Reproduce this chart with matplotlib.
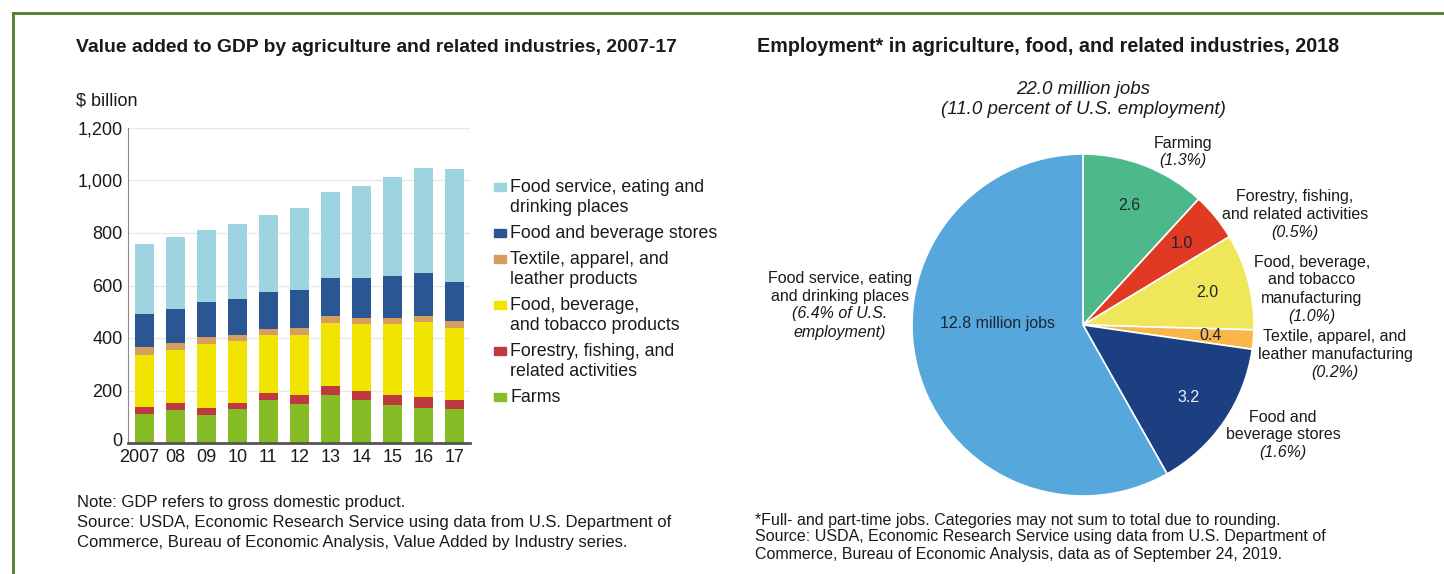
import matplotlib
matplotlib.use("Agg")
import matplotlib.pyplot as plt
from matplotlib.lines import Line2D
from matplotlib.patches import Rectangle
from matplotlib.transforms import ScaledTranslation
import numpy as np

plt.rcParams['font.family'] = ['Liberation Sans', 'DejaVu Sans']

W, H = 1444, 574

# --- bar chart data ($ billion) ---
years = ["2007", "08", "09", "10", "11", "12", "13", "14", "15", "16", "17"]
farms = [111, 124, 106, 128, 162, 147, 184, 165, 143, 134, 130]
forestry = [28, 27, 28, 26, 29, 34, 34, 35, 38, 40, 35]
food_bev = [195, 203, 245, 235, 220, 230, 239, 253, 272, 286, 273]
textile = [30, 28, 23, 23, 24, 27, 26, 23, 23, 23, 25]
stores = [126, 130, 134, 137, 139, 143, 146, 152, 161, 166, 150]
food_service = [270, 272, 277, 287, 294, 315, 328, 351, 377, 400, 429]

bar_series = [farms, forestry, food_bev, textile, stores, food_service]
bar_colors = ["#86BC25", "#BE3A3E", "#F0E400", "#D69E5E", "#2A5694", "#9ED3E0"]
bar_labels = ["Farms", "Forestry, fishing, and\nrelated activities",
              "Food, beverage,\nand tobacco products", "Textile, apparel, and\nleather products",
              "Food and beverage stores", "Food service, eating and\ndrinking places"]

# --- pie data (million jobs) ---
pie_values = [2.6, 1.0, 2.0, 0.4, 3.2, 12.8]
pie_inner = ["2.6", "1.0", "2.0", "0.4", "3.2", "12.8 million jobs"]
pie_names = ["Farming", "Forestry, fishing,\nand related activities",
             "Food, beverage,\nand tobacco\nmanufacturing", "Textile, apparel, and\nleather manufacturing",
             "Food and\nbeverage stores", "Food service, eating\nand drinking places"]
pie_shares = ["(1.3%)", "(0.5%)", "(1.0%)", "(0.2%)", "(1.6%)", "(6.4% of U.S.\nemployment)"]
pie_colors = ["#4DB98A", "#E03A24", "#F0E65A", "#F9B74B", "#1B3F80", "#56A8DC"]


def fx(x):
    return x / W


def fy(y):
    return 1 - y / H


txt = "#1a1a1a"
fig = plt.figure(figsize=(W / 100, H / 100), dpi=100)

# green frame (top and left)
fig.add_artist(Line2D([fx(13), 1], [fy(13), fy(13)], color="#4E7F2A", lw=2))
fig.add_artist(Line2D([fx(13), fx(13)], [fy(13), 0], color="#4E7F2A", lw=2))

# ---------------- stacked bars ----------------
ax = fig.add_axes([fx(128), fy(443), fx(470) - fx(128), fy(128) - fy(443)])
x = np.arange(len(years))
bottom = np.zeros(len(years))
for vals, col in zip(bar_series, bar_colors):
    ax.bar(x, vals, 0.62, bottom=bottom, color=col, zorder=2)
    bottom += np.array(vals)

ax.set_xlim(-0.52, 10.5)
ax.set_ylim(0, 1200)
ax.set_yticks(range(0, 1201, 200))
ax.set_yticklabels(["0", "200", "400", "600", "800", "1,000", "1,200"])
ax.set_xticks(x)
ax.set_xticklabels(years)
ax.tick_params(length=0, labelsize=13, colors=txt)
ax.tick_params(axis="y", pad=4)
ax.tick_params(axis="x", pad=4)
# nudge "2007" left and "0" up so the corner labels don't collide
first = ax.get_xticklabels()[0]
first.set_transform(first.get_transform() + ScaledTranslation(-0.05, 0, fig.dpi_scale_trans))
zero = ax.get_yticklabels()[0]
zero.set_transform(zero.get_transform() + ScaledTranslation(0, 0.04, fig.dpi_scale_trans))
ax.grid(axis="y", color="#e8e8e8", lw=1, zorder=0)
for s in ["top", "right"]:
    ax.spines[s].set_visible(False)
ax.spines["left"].set_color("#8a8a8a")
ax.spines["bottom"].set_color("#555555")
ax.spines["bottom"].set_linewidth(2)
ax.spines["bottom"].set_zorder(3)

fig.text(fx(76), fy(47), "Value added to GDP by agriculture and related industries, 2007-17",
         fontsize=13.9, fontweight="bold", color=txt, va="center")
fig.text(fx(76), fy(101), "$ billion", fontsize=13, color=txt, va="center")

# legend, drawn top to bottom
y = 187
for lab, col in zip(bar_labels[::-1], bar_colors[::-1]):
    fig.add_artist(Rectangle((fx(494), fy(y + 4)), fx(12), fy(y - 4) - fy(y + 4),
                             color=col, transform=fig.transFigure))
    lines = lab.split("\n")
    for i, ln in enumerate(lines):
        fig.text(fx(510), fy(y + 20 * i), ln, fontsize=12.8, color=txt, va="center")
    y += 20 * len(lines) + 6

notes_l = ["Note: GDP refers to gross domestic product.",
           "Source: USDA, Economic Research Service using data from U.S. Department of",
           "Commerce, Bureau of Economic Analysis, Value Added by Industry series."]
for i, ln in enumerate(notes_l):
    fig.text(fx(77), fy(503 + 20 * i), ln, fontsize=12, color=txt, va="center")

# ---------------- pie ----------------
cx, cy, r = 1083, 325, 171
pax = fig.add_axes([fx(cx - r), fy(cy + r), fx(2 * r), fy(0) - fy(2 * r)])
wedges, _ = pax.pie(pie_values, colors=pie_colors, startangle=90, counterclock=False,
                    wedgeprops=dict(edgecolor="white", linewidth=1.2))
pax.set_xlim(-1, 1)
pax.set_ylim(-1, 1)
pax.set_aspect("auto")

for i, (w, lab) in enumerate(zip(wedges, pie_inner)):
    ang = np.deg2rad((w.theta1 + w.theta2) / 2)
    if i == len(wedges) - 1:
        px, py = -0.50, 0.01
    else:
        px, py = 0.75 * np.cos(ang), 0.75 * np.sin(ang)
    col = "#eef2fa" if i == 4 else "#1c2633"
    pax.text(px, py, lab, ha="center", va="center", fontsize=11.5, color=col)

fig.text(fx(757), fy(47), "Employment* in agriculture, food, and related industries, 2018",
         fontsize=14.2, fontweight="bold", color=txt, va="center")
fig.text(fx(cx), fy(90), "22.0 million jobs", fontsize=13.5, style="italic", color=txt,
         ha="center", va="center")
fig.text(fx(cx), fy(110), "(11.0 percent of U.S. employment)", fontsize=13.5, style="italic",
         color=txt, ha="center", va="center")

# outer labels: centre x, first line y
label_pos = [(1183, 143), (1295, 197), (1312, 262), (1335, 336), (1283, 417), (840, 278)]
for name, share, (lx, ly) in zip(pie_names, pie_shares, label_pos):
    n = 0
    for ln in name.split("\n"):
        fig.text(fx(lx), fy(ly + 18 * n), ln, fontsize=11.5, color=txt, ha="center", va="center")
        n += 1
    for ln in share.split("\n"):
        fig.text(fx(lx), fy(ly + 18 * n), ln, fontsize=11.5, style="italic", color=txt,
                 ha="center", va="center")
        n += 1

notes_r = ["*Full- and part-time jobs. Categories may not sum to total due to rounding.",
           "Source: USDA, Economic Research Service using data from U.S. Department of",
           "Commerce, Bureau of Economic Analysis, data as of September 24, 2019."]
for i, ln in enumerate(notes_r):
    fig.text(fx(755), fy(520 + 17 * i), ln, fontsize=11.5, color=txt, va="center")

fig.savefig("out.png", dpi=100)
